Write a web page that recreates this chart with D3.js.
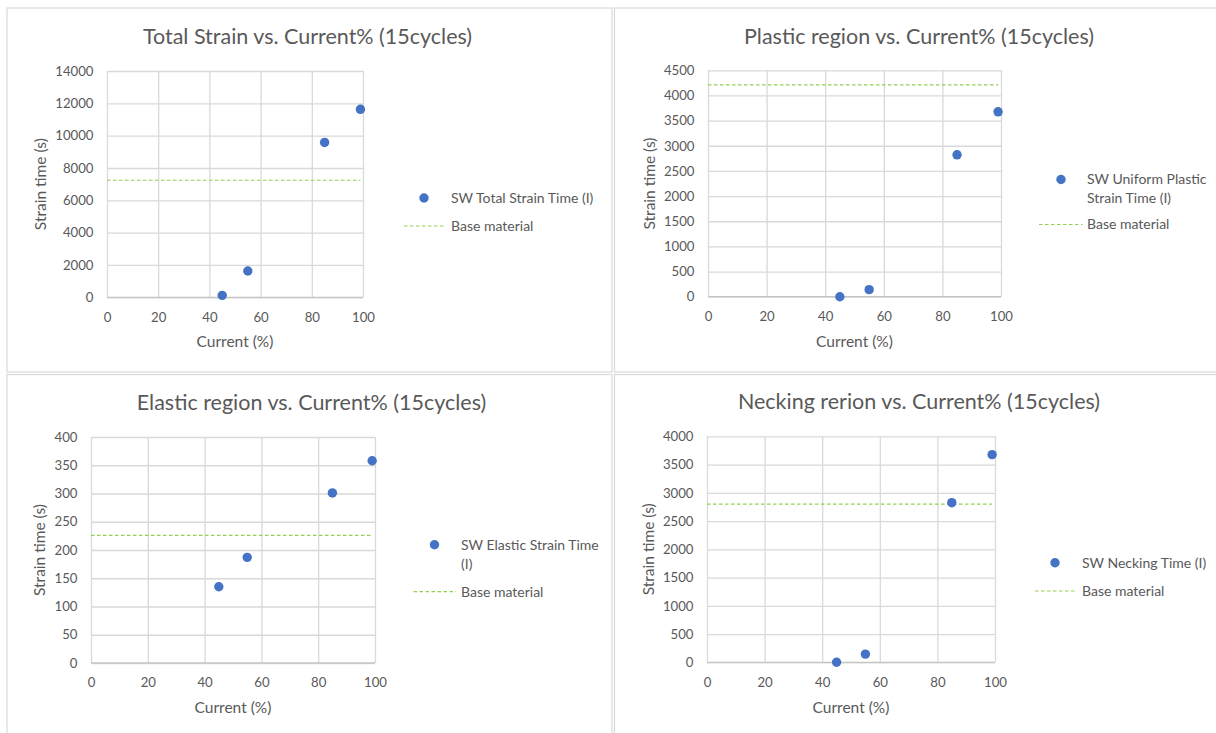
<!DOCTYPE html>
<html>
<head>
<meta charset="utf-8">
<script src="https://cdn.jsdelivr.net/npm/d3@7"></script>
<style>
  html, body { margin: 0; padding: 0; background: #fff; }
  svg { display: block; font-family: Lato, "Open Sans", sans-serif; }
</style>
</head>
<body>
<svg id="chart" width="1216" height="733"></svg>
<script>
// Strain time per welding current (15 cycles)
const currents = [45, 55, 85, 99];
const totalStrainTime = [120, 1630, 9580, 11630];
const plasticStrainTime = [0, 140, 2820, 3675];
const elasticStrainTime = [135, 187, 301, 358];
const neckingTime = [0, 145, 2825, 3675];

// Base material reference level for each region, drawn across the current range
const baseCurrents = [0, 99];
const baseTotal = 7240;
const basePlastic = 4210;
const baseElastic = 226;
const baseNecking = 2800;

const xTicks = [0, 20, 40, 60, 80, 100];
const yTicksTotal = [0, 2000, 4000, 6000, 8000, 10000, 12000, 14000];
const yTicksPlastic = [0, 500, 1000, 1500, 2000, 2500, 3000, 3500, 4000, 4500];
const yTicksElastic = [0, 50, 100, 150, 200, 250, 300, 350, 400];
const yTicksNecking = [0, 500, 1000, 1500, 2000, 2500, 3000, 3500, 4000];

const chartTitles = [
  "Total Strain vs. Current% (15cycles)",
  "Plastic region vs. Current% (15cycles)",
  "Elastic region vs. Current% (15cycles)",
  "Necking rerion vs. Current% (15cycles)"
];
const seriesLabels = [
  ["SW Total Strain Time (I)"],
  ["SW Uniform Plastic", "Strain Time (I)"],
  ["SW Elastic Strain Time", "(I)"],
  ["SW Necking Time (I)"]
];
const baseLabel = "Base material";
const xTitle = "Current (%)";
const yTitle = "Strain time (s)";

const series = [totalStrainTime, plasticStrainTime, elasticStrainTime, neckingTime];
const baseLevels = [baseTotal, basePlastic, baseElastic, baseNecking];
const yTickSets = [yTicksTotal, yTicksPlastic, yTicksElastic, yTicksNecking];

// Layout of the four chart frames
const layouts = [
  { frame: [7, 8, 605, 364], plot: [107, 71, 363, 297.3], title: [307.5, 44], yTitleX: 41, xTitleY: 341.5,
    legend: { mx: 424, my: 198, tx: 451, dash: [404, 446], dy: 226 } },
  { frame: [614.5, 8, 620, 364], plot: [708, 70.3, 1001, 296.7], title: [919, 43.5], yTitleX: 650, xTitleY: 341.5,
    legend: { mx: 1061, my: 179.5, tx: 1087, dash: [1039, 1082.5], dy: 224.5 } },
  { frame: [7, 374.5, 605, 370], plot: [91, 437, 375, 663], title: [311.5, 410], yTitleX: 40, xTitleY: 708,
    legend: { mx: 434.5, my: 544.7, tx: 461, dash: [413.5, 456], dy: 591.7 } },
  { frame: [614.5, 374.5, 620, 370], plot: [707, 436.3, 995, 662.3], title: [919, 409.3], yTitleX: 648.5, xTitleY: 707.3,
    legend: { mx: 1055, my: 562.7, tx: 1082, dash: [1035, 1077], dy: 591 } }
];

const textColor = "#595959";
const gridColor = "#d9d9d9";
const pointColor = "#4472C4";
const baseColor = "#92D050";

const svg = d3.select("#chart");

layouts.forEach((L, i) => {
  const g = svg.append("g");
  const [fx, fy, fw, fh] = L.frame;
  g.append("rect").attr("x", fx).attr("y", fy).attr("width", fw).attr("height", fh)
    .attr("fill", "#fff").attr("stroke", gridColor).attr("stroke-width", 1.2);

  const [px0, py0, px1, py1] = L.plot;
  const yTicks = yTickSets[i];
  const x = d3.scaleLinear().domain([0, 100]).range([px0, px1]);
  const y = d3.scaleLinear().domain([0, d3.max(yTicks)]).range([py1, py0]);

  // horizontal gridlines + y tick labels
  const yAxis = g.append("g").attr("transform", `translate(${px0},0)`)
    .call(d3.axisLeft(y).tickValues(yTicks).tickSize(-(px1 - px0)).tickPadding(13.5).tickFormat(d3.format("d")));
  yAxis.select(".domain").remove();
  yAxis.selectAll("line").attr("stroke", gridColor).attr("stroke-width", 1.3);
  yAxis.selectAll("text").attr("font-size", 13.2).attr("fill", textColor).attr("font-family", null);

  // vertical gridlines + x tick labels
  const xAxis = g.append("g").attr("transform", `translate(0,${py1})`)
    .call(d3.axisBottom(x).tickValues(xTicks).tickSize(-(py1 - py0)).tickPadding(15).tickFormat(d3.format("d")));
  xAxis.select(".domain").remove();
  xAxis.selectAll("line").attr("stroke", gridColor).attr("stroke-width", 1.3);
  xAxis.selectAll("text").attr("font-size", 13.2).attr("fill", textColor).attr("font-family", null);
  yAxis.attr("font-family", null);
  xAxis.attr("font-family", null);

  // value axis baseline
  g.append("line").attr("x1", px0).attr("x2", px1).attr("y1", y(0)).attr("y2", y(0))
    .attr("stroke", "#c4c4c4").attr("stroke-width", 1.3);

  // base material reference
  const baseLine = d3.line().x(d => x(d)).y(() => y(baseLevels[i]));
  g.append("path").attr("d", baseLine(baseCurrents))
    .attr("fill", "none").attr("stroke", baseColor).attr("stroke-width", 1.2)
    .attr("stroke-dasharray", "3.5,2.5");

  // measured points
  g.selectAll("circle.pt").data(currents).join("circle").attr("class", "pt")
    .attr("cx", d => x(d)).attr("cy", (d, k) => y(series[i][k])).attr("r", 4.7)
    .attr("fill", pointColor);

  // chart title
  g.append("text").attr("x", L.title[0]).attr("y", L.title[1]).attr("text-anchor", "middle")
    .attr("font-size", 21.5).attr("fill", textColor).text(chartTitles[i]);

  // axis titles
  g.append("text").attr("x", (px0 + px1) / 2).attr("y", L.xTitleY).attr("dy", "0.35em")
    .attr("text-anchor", "middle")
    .attr("font-size", 15.5).attr("fill", textColor).text(xTitle);
  g.append("text").attr("transform", `translate(${L.yTitleX},${(py0 + py1) / 2}) rotate(-90)`)
    .attr("text-anchor", "middle").attr("dy", "0.35em")
    .attr("font-size", 15.5).attr("fill", textColor).text(yTitle);

  // legend
  const lg = L.legend;
  g.append("circle").attr("cx", lg.mx).attr("cy", lg.my).attr("r", 4.7).attr("fill", pointColor);
  seriesLabels[i].forEach((s, k) => {
    g.append("text").attr("x", lg.tx).attr("y", lg.my + k * 19).attr("dy", "0.35em")
      .attr("font-size", 14).attr("fill", textColor).text(s);
  });
  g.append("line").attr("x1", lg.dash[0]).attr("x2", lg.dash[1]).attr("y1", lg.dy).attr("y2", lg.dy)
    .attr("stroke", baseColor).attr("stroke-width", 1.2).attr("stroke-dasharray", "3.5,2.5");
  g.append("text").attr("x", lg.tx).attr("y", lg.dy).attr("dy", "0.35em")
    .attr("font-size", 14).attr("fill", textColor).text(baseLabel);
});
</script>
</body>
</html>
